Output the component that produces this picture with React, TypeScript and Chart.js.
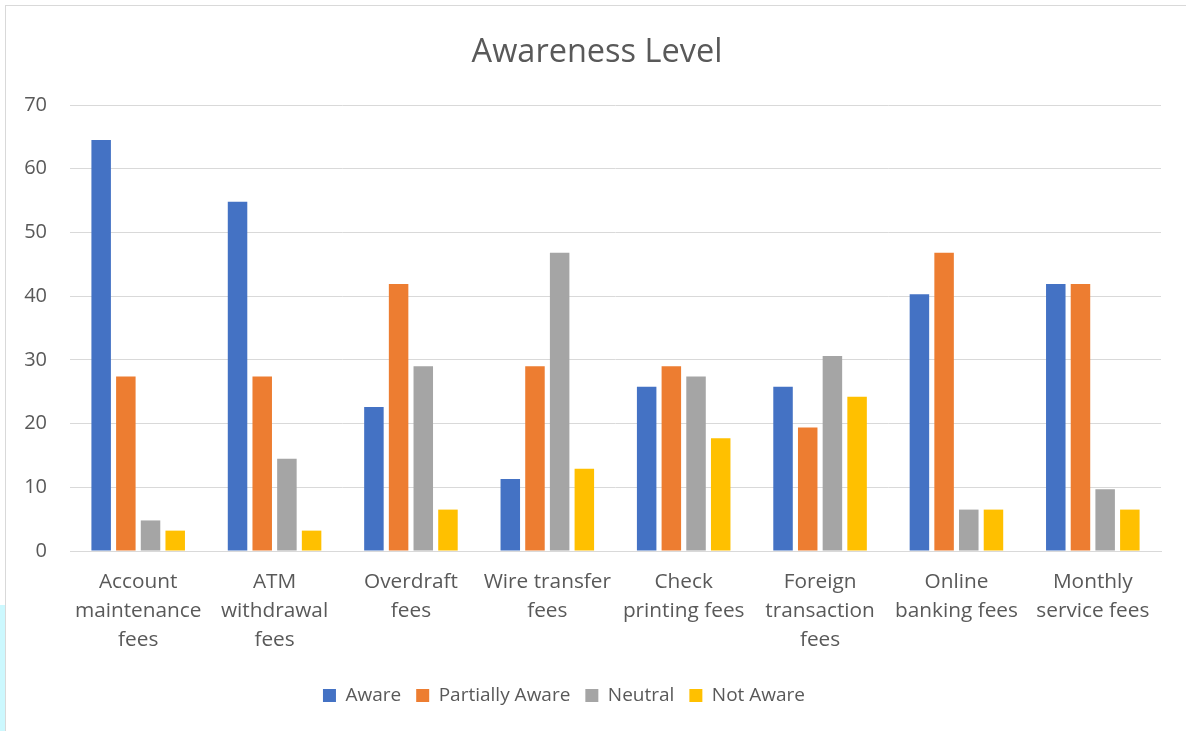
import React, { useEffect, useRef } from "react";
import { Chart, registerables } from "chart.js";

Chart.register(...registerables);

const categories: string[][] = [
  ["Account", "maintenance", "fees"],
  ["ATM", "withdrawal", "fees"],
  ["Overdraft", "fees"],
  ["Wire transfer", "fees"],
  ["Check", "printing fees"],
  ["Foreign", "transaction", "fees"],
  ["Online", "banking fees"],
  ["Monthly", "service fees"],
];

const aware = [64.5, 54.8, 22.6, 11.3, 25.8, 25.8, 40.3, 41.9];
const partiallyAware = [27.4, 27.4, 41.9, 29.0, 29.0, 19.4, 46.8, 41.9];
const neutral = [4.8, 14.5, 29.0, 46.8, 27.4, 30.6, 6.5, 9.7];
const notAware = [3.2, 3.2, 6.5, 12.9, 17.7, 24.2, 6.5, 6.5];

const seriesNames = ["Aware", "Partially Aware", "Neutral", "Not Aware"];
const seriesColors = ["#4472C4", "#ED7D31", "#A5A5A5", "#FFC000"];

const chartTitle = "Awareness Level";
const FONT = "'Open Sans', 'Noto Sans', sans-serif";
const TEXT = "#595959";

// small horizontal nudges of the title and legend blocks (the chart library
// centres both on the same axis; the reference does not)
const blockShift = {
  id: "blockShift",
  afterLayout(chart: any) {
    const t = chart.titleBlock;
    if (t) {
      t.left += 13;
      t.right += 13;
    }
    const l = chart.legend;
    if (l) {
      l.left -= 20;
      l.right -= 20;
    }
  },
};

export default function App() {
  const ref = useRef<HTMLCanvasElement | null>(null);

  useEffect(() => {
    document.body.style.margin = "0";
    if (!ref.current) return;
    const values = [aware, partiallyAware, neutral, notAware];
    const chart = new Chart(ref.current, {
      type: "bar",
      data: {
        labels: categories,
        datasets: values.map((v, i) => ({
          label: seriesNames[i],
          data: v,
          backgroundColor: seriesColors[i],
          borderWidth: 0,
          barPercentage: 0.79,
          categoryPercentage: 0.724,
        })),
      },
      plugins: [blockShift],
      options: {
        animation: false,
        responsive: false,
        devicePixelRatio: 1,
        layout: { padding: { top: 4, left: 0, right: 25, bottom: 16 } },
        plugins: {
          title: {
            display: true,
            text: chartTitle,
            color: TEXT,
            font: { family: FONT, size: 32.5, weight: "normal" },
            padding: { top: 22, bottom: 33 },
          },
          legend: {
            position: "bottom",
            labels: {
              boxWidth: 13,
              boxHeight: 13,
              color: TEXT,
              font: { family: FONT, size: 19 },
              padding: 15,
            },
          },
          tooltip: { enabled: false },
        },
        scales: {
          x: {
            grid: { display: false, drawTicks: false },
            border: { display: true, color: "#D9D9D9", width: 1 },
            ticks: {
              color: TEXT,
              font: { family: FONT, size: 20.8, lineHeight: 1.394 },
              padding: 16.5,
              maxRotation: 0,
              autoSkip: false,
            },
          },
          y: {
            min: 0,
            max: 70,
            grid: { color: "#D9D9D9", drawTicks: false, lineWidth: 1 },
            border: { display: false },
            afterFit: (scale: any) => {
              scale.width = 63;
            },
            ticks: {
              stepSize: 10,
              color: TEXT,
              font: { family: FONT, size: 20 },
              padding: 23,
            },
          },
        },
      },
    });
    return () => chart.destroy();
  }, []);

  return (
    <div
      style={{
        position: "absolute",
        left: 0,
        top: 0,
        width: 1186,
        height: 731,
        overflow: "hidden",
        background: "#fff",
      }}
    >
      <div
        style={{
          position: "absolute",
          left: 0,
          top: 605,
          width: 5,
          height: 126,
          background: "#CCF8FE",
        }}
      />
      <div
        style={{
          position: "absolute",
          left: 5,
          top: 5,
          width: 1200,
          height: 740,
          border: "1px solid #D9D9D9",
          boxSizing: "border-box",
        }}
      />
      <canvas
        ref={ref}
        width={1179}
        height={724}
        style={{ position: "absolute", left: 7, top: 7, width: 1179, height: 724 }}
      />
    </div>
  );
}
